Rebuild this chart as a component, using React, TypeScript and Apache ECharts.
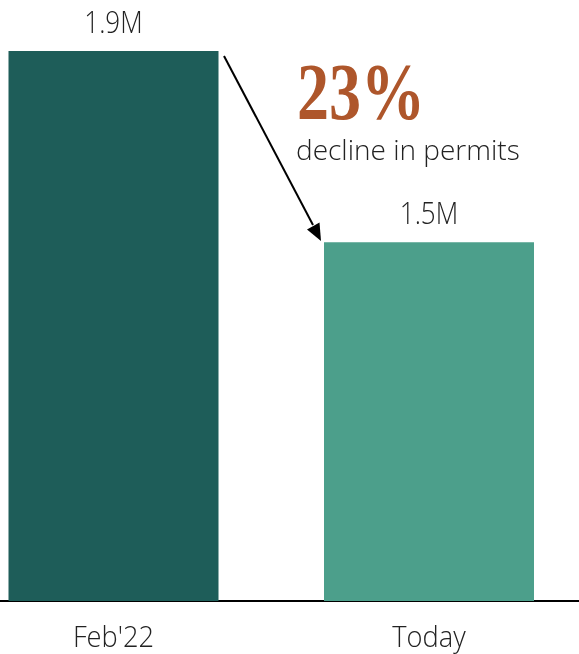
import React, { useEffect, useRef } from "react";
import * as echarts from "echarts";

const categories = ["Feb'22", "Today"];
const permitValues = [1.9, 1.5];
const valueLabels = ["1.9M", "1.5M"];
const barColors = ["#1e5d59", "#4c9f8b"];
const axisMin = 0.75;
const headline = "23%";
const subline = "decline in permits";

export default function App() {
  const ref = useRef<HTMLDivElement>(null);
  useEffect(() => {
    if (!ref.current) return;
    const chart = echarts.init(ref.current, null, { renderer: "svg" });
    const sans = "'Open Sans', 'Noto Sans', sans-serif";
    chart.setOption({
      animation: false,
      grid: {
        left: -44.25,
        right: -7.75,
        top: 51,
        bottom: 53,
        containLabel: false,
        outerBoundsMode: "none",
      },
      xAxis: {
        type: "category",
        data: categories,
        axisLine: { show: true, lineStyle: { color: "#000", width: 2 } },
        axisTick: { show: false },
        axisLabel: { show: false },
      },
      yAxis: {
        type: "value",
        min: axisMin,
        max: 1.9,
        show: false,
        splitLine: { show: false },
      },
      series: [
        {
          type: "bar",
          barWidth: 210,
          data: permitValues.map((v, i) => ({
            value: v,
            itemStyle: { color: barColors[i] },
          })),
        },
        {
          type: "custom",
          clip: false,
          z: 5,
          data: permitValues.map((v, i) => [i, v]),
          renderItem: (params: any, api: any) => {
            const p = api.coord([api.value(0), api.value(1)]);
            return {
              type: "text",
              x: p[0],
              y: p[1] - 15,
              scaleX: 0.84,
              style: {
                text: valueLabels[params.dataIndex],
                align: "center",
                verticalAlign: "bottom",
                fill: "#222",
                font: `300 31px ${sans}`,
              },
            };
          },
        },
        {
          type: "custom",
          clip: false,
          z: 5,
          data: categories.map((c, i) => [i, axisMin]),
          renderItem: (params: any, api: any) => {
            const p = api.coord([api.value(0), api.value(1)]);
            return {
              type: "text",
              x: p[0],
              y: p[1] + 20,
              scaleX: 0.94,
              style: {
                text: categories[params.dataIndex],
                align: "center",
                verticalAlign: "top",
                fill: "#222",
                font: `300 29px ${sans}`,
              },
            };
          },
        },
      ],
      graphic: [
        {
          type: "line",
          shape: { x1: 224, y1: 56, x2: 313, y2: 225 },
          style: { stroke: "#000", lineWidth: 2 },
        },
        {
          type: "polygon",
          shape: { points: [[321, 241], [307, 229.5], [319.5, 222.5]] },
          style: { fill: "#000" },
        },
        {
          type: "text",
          x: 297,
          y: 52,
          scaleX: 0.8,
          style: {
            text: headline,
            fill: "#ae562b",
            align: "left",
            verticalAlign: "top",
            font: "bold 80px 'Liberation Serif', 'DejaVu Serif', serif",
          },
        },
        {
          type: "text",
          x: 296,
          y: 135,
          style: {
            text: subline,
            fill: "#222",
            align: "left",
            verticalAlign: "top",
            font: `300 28px ${sans}`,
          },
        },
      ],
    });
    return () => chart.dispose();
  }, []);
  return (
    <div
      ref={ref}
      style={{ position: "fixed", left: 0, top: 0, width: 579, height: 654 }}
    />
  );
}
